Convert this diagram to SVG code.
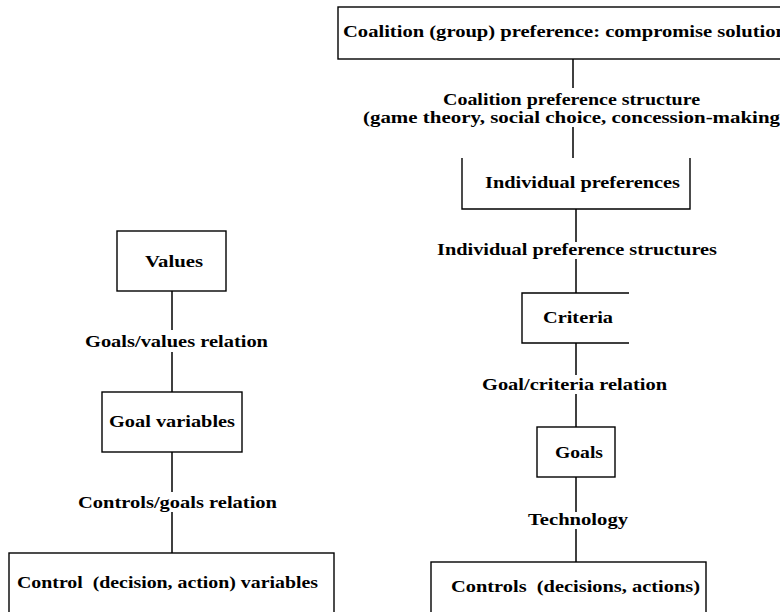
<svg xmlns="http://www.w3.org/2000/svg" width="780" height="612" viewBox="0 0 780 612">
<style>
.box{fill:none;stroke:#000;stroke-width:1.4}
.ln{fill:none;stroke:#000;stroke-width:1.5}
text{font-family:"Liberation Serif","Times New Roman",serif;font-weight:bold;font-size:17px;fill:#000;white-space:pre}
.sm{font-size:16px}
</style>
<rect width="780" height="612" fill="#fff"/>
<g id="connectors">
<line class="ln" x1="573" y1="59" x2="573" y2="88"/>
<line class="ln" x1="573" y1="127" x2="573" y2="158"/>
<line class="ln" x1="576" y1="209" x2="576" y2="242"/>
<line class="ln" x1="576" y1="259" x2="576" y2="293"/>
<line class="ln" x1="576" y1="343" x2="576" y2="375"/>
<line class="ln" x1="576" y1="394" x2="576" y2="427"/>
<line class="ln" x1="576" y1="477" x2="576" y2="512"/>
<line class="ln" x1="576" y1="529" x2="576" y2="562"/>
<line class="ln" x1="172" y1="291" x2="172" y2="330"/>
<line class="ln" x1="172" y1="352" x2="172" y2="392"/>
<line class="ln" x1="172" y1="452" x2="172" y2="492"/>
<line class="ln" x1="172" y1="512" x2="172" y2="553"/>
<text class="sm" x="443" y="104.5" textLength="257" lengthAdjust="spacingAndGlyphs">Coalition preference structure</text>
<text class="sm" x="363" y="122.5" textLength="417" lengthAdjust="spacingAndGlyphs">(game theory, social choice, concession-making</text>
<text x="437" y="255" textLength="280" lengthAdjust="spacingAndGlyphs">Individual preference structures</text>
<text x="482" y="390" textLength="185" lengthAdjust="spacingAndGlyphs">Goal/criteria relation</text>
<text x="528" y="525" textLength="100" lengthAdjust="spacingAndGlyphs">Technology</text>
<text x="85" y="347" textLength="183" lengthAdjust="spacingAndGlyphs">Goals/values relation</text>
<text x="78" y="508" textLength="199" lengthAdjust="spacingAndGlyphs">Controls/goals relation</text>
</g>
<g id="coalition">
<rect class="box" x="338" y="7" width="460" height="52"/>
<text x="343" y="37" textLength="444" lengthAdjust="spacingAndGlyphs">Coalition (group) preference: compromise solution</text>
</g>
<g id="individual">
<path class="box" d="M462,158 V209 H690 V158"/>
<text x="485" y="188" textLength="195" lengthAdjust="spacingAndGlyphs">Individual preferences</text>
</g>
<g id="criteria">
<path class="box" d="M629,293 H522 V343 H629"/>
<text x="543" y="323" textLength="70" lengthAdjust="spacingAndGlyphs">Criteria</text>
</g>
<g id="goals">
<rect class="box" x="537" y="427" width="78" height="50"/>
<text x="555" y="458" textLength="48" lengthAdjust="spacingAndGlyphs">Goals</text>
</g>
<g id="controls">
<rect class="box" x="431" y="562" width="275" height="60"/>
<text x="451" y="592" textLength="249" lengthAdjust="spacingAndGlyphs">Controls  (decisions, actions)</text>
</g>
<g id="values">
<rect class="box" x="117" y="231" width="109" height="60"/>
<text x="145" y="267" textLength="58" lengthAdjust="spacingAndGlyphs">Values</text>
</g>
<g id="goal-variables">
<rect class="box" x="102" y="392" width="140" height="60"/>
<text x="109" y="427" textLength="126" lengthAdjust="spacingAndGlyphs">Goal variables</text>
</g>
<g id="control-variables">
<rect class="box" x="9" y="553" width="325" height="70"/>
<text x="17" y="588" textLength="301" lengthAdjust="spacingAndGlyphs">Control  (decision, action) variables</text>
</g>
</svg>
